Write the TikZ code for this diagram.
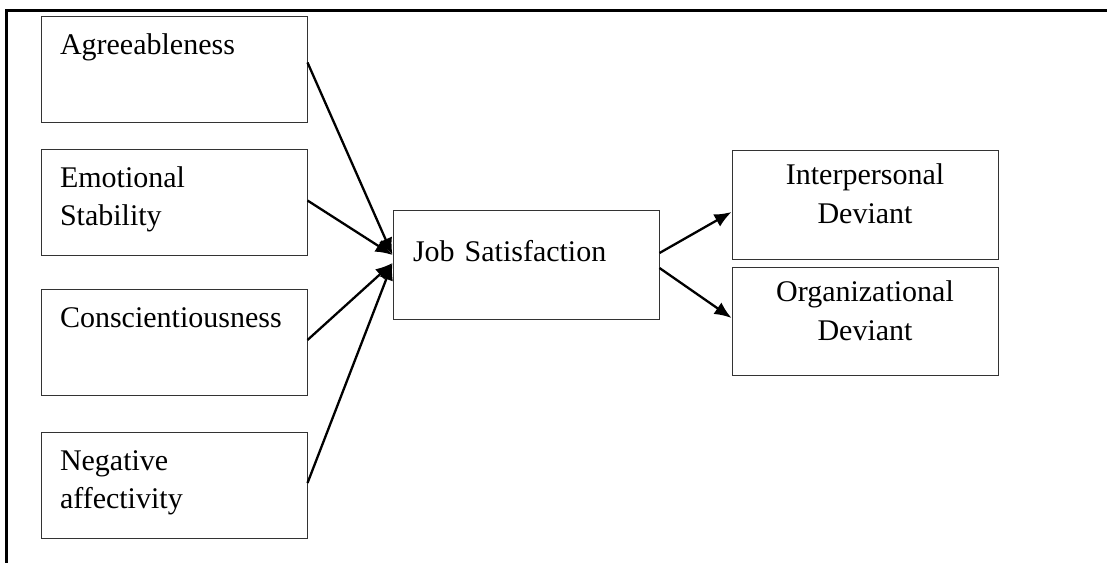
\documentclass[tikz,border=0pt]{standalone}
\usepackage{fontspec}
\setmainfont{Liberation Serif}
\usetikzlibrary{positioning}
\usetikzlibrary{arrows.meta}
\usetikzlibrary{calc}
\tikzstyle{factor}=[rectangle,draw=black!80,line width=1pt,text width=228pt,align=left,inner xsep=19pt,inner ysep=0pt,text height=38pt,text depth=68pt,font=\fontsize{30}{38.5}\selectfont]
\tikzstyle{mediator}=[rectangle,draw=black!80,line width=1pt,text width=226pt,align=left,inner xsep=20pt,inner ysep=0pt,text height=50pt,text depth=58pt,font=\fontsize{30}{38.5}\selectfont]
\tikzstyle{outcome}=[rectangle,draw=black!80,line width=1pt,text width=226pt,align=center,inner xsep=20pt,inner ysep=0pt,text height=34pt,text depth=74pt,font=\fontsize{30}{38.5}\selectfont]
\tikzstyle{path} = [-{Latex[length=17pt,width=14pt]}, line width=2.3pt]

\begin{document}
\begin{tikzpicture}[x=1pt,y=1pt]

\useasboundingbox (0,0) rectangle (1107,563);
\draw[line width=3pt] (1107,552) -- (6,552) -- (6,0);

%traits
    \foreach \pos/\name/\text in {{(174,493.5)/agree/Agreeableness}, {(174,360.5)/emot/Emotional\\Stability}, {(174,221)/consc/Conscientiousness}, {(174,78)/neg/Negative\\affectivity}}
        \node[factor] (\name) at \pos {\text};

    \node[mediator] (js) at (526,298) {Job Satisfaction};
    \node[outcome] (id) at (865,358) {Interpersonal\\Deviant};
    \node[outcome] (od) at (865,241.5) {Organizational\\Deviant};

%paths
    \foreach \source/\sy/\dy in {agree/7/10, emot/2/10, consc/2/2, neg/2/2}
        \draw[path] ($(\source.east)+(0,\sy)$) -- ($(js.west)+(0,\dy)$);

    \draw[path] ($(js.east)+(0,12)$) -- ($(id.west)+(0,-7)$);
    \draw[path] ($(js.east)+(0,-3)$) -- ($(od.west)+(0,3.5)$);

\end{tikzpicture}
\end{document}
